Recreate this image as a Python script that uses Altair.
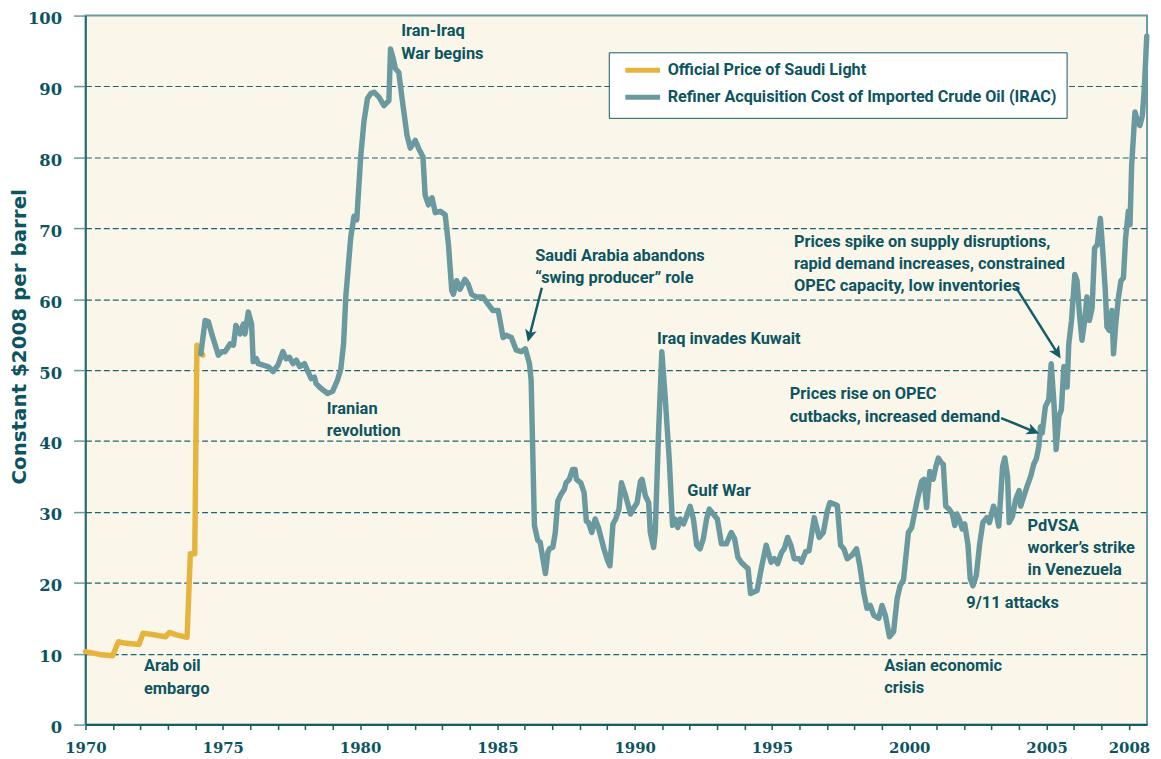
import altair as alt
import pandas as pd

# ---------------- data ----------------
series_names = ["Official Price of Saudi Light",
                "Refiner Acquisition Cost of Imported Crude Oil (IRAC)"]
series_colors = ["#E5B43C", "#6A9AA0"]

saudi_year = [1970.00, 1970.51, 1970.99, 1971.20, 1971.41, 1971.95, 1972.10, 1972.43,
              1972.92, 1973.06, 1973.28, 1973.70, 1973.82, 1973.98, 1974.06, 1974.27]
saudi_value = [10.3, 9.9, 9.7, 11.7, 11.5, 11.3, 12.9, 12.7,
               12.4, 13.0, 12.7, 12.3, 24.1, 24.1, 53.5, 52.1]

irac_year = [
    1974.20, 1974.36, 1974.48, 1974.60, 1974.84, 1974.96, 1975.08, 1975.27, 1975.39, 1975.48,
    1975.63, 1975.75, 1975.81, 1975.93, 1976.05, 1976.11, 1976.23, 1976.29, 1976.47, 1976.65,
    1976.83, 1977.01, 1977.19, 1977.31, 1977.43, 1977.56, 1977.68, 1977.80, 1977.98, 1978.10,
    1978.22, 1978.34, 1978.40, 1978.58, 1978.82, 1979.00, 1979.18, 1979.30, 1979.40, 1979.48,
    1979.66, 1979.78, 1979.88, 1980.02, 1980.14, 1980.27, 1980.39, 1980.51, 1980.69, 1980.87,
    1981.05, 1981.11, 1981.21, 1981.29, 1981.41, 1981.53, 1981.71, 1981.83, 1982.01, 1982.13,
    1982.29, 1982.37, 1982.49, 1982.62, 1982.74, 1982.92, 1983.10, 1983.22, 1983.34, 1983.40,
    1983.52, 1983.64, 1983.82, 1983.94, 1984.06, 1984.24, 1984.48, 1984.66, 1984.84, 1985.03,
    1985.21, 1985.33, 1985.51, 1985.69, 1985.87, 1986.02, 1986.17, 1986.23, 1986.35, 1986.47,
    1986.56, 1986.66, 1986.75, 1986.84, 1986.90, 1987.02, 1987.11, 1987.20, 1987.32, 1987.44,
    1987.50, 1987.62, 1987.74, 1987.83, 1987.88, 1988.04, 1988.16, 1988.24, 1988.32, 1988.44,
    1988.56, 1988.68, 1988.80, 1988.88, 1989.01, 1989.10, 1989.21, 1989.31, 1989.43, 1989.52,
    1989.67, 1989.85, 1989.97, 1990.09, 1990.21, 1990.27, 1990.39, 1990.51, 1990.57, 1990.69,
    1990.75, 1990.87, 1990.99, 1991.11, 1991.26, 1991.38, 1991.47, 1991.57, 1991.66, 1991.78,
    1991.90, 1992.02, 1992.14, 1992.26, 1992.38, 1992.50, 1992.62, 1992.72, 1992.86, 1993.01,
    1993.16, 1993.34, 1993.52, 1993.64, 1993.76, 1993.88, 1994.01, 1994.13, 1994.22, 1994.34,
    1994.46, 1994.61, 1994.79, 1994.97, 1995.09, 1995.21, 1995.35, 1995.45, 1995.57, 1995.69,
    1995.81, 1995.99, 1996.08, 1996.23, 1996.35, 1996.54, 1996.72, 1996.87, 1997.02, 1997.11,
    1997.26, 1997.38, 1997.50, 1997.62, 1997.74, 1997.92, 1998.08, 1998.20, 1998.34, 1998.46,
    1998.58, 1998.71, 1998.89, 1999.01, 1999.13, 1999.28, 1999.43, 1999.56, 1999.67, 1999.79,
    1999.97, 2000.09, 2000.27, 2000.45, 2000.54, 2000.63, 2000.75, 2000.87, 2000.97, 2001.06,
    2001.18, 2001.24, 2001.33, 2001.45, 2001.57, 2001.66, 2001.74, 2001.84, 2001.93, 2002.02,
    2002.14, 2002.22, 2002.32, 2002.44, 2002.56, 2002.68, 2002.83, 2002.92, 2003.07, 2003.16,
    2003.26, 2003.40, 2003.48, 2003.58, 2003.64, 2003.76, 2003.88, 2004.00, 2004.06, 2004.14,
    2004.30, 2004.42, 2004.54, 2004.63, 2004.72, 2004.78, 2004.84, 2004.96, 2005.08, 2005.17,
    2005.27, 2005.35, 2005.45, 2005.54, 2005.63, 2005.75, 2005.81, 2005.91, 2006.03, 2006.11,
    2006.20, 2006.29, 2006.39, 2006.47, 2006.56, 2006.66, 2006.75, 2006.85, 2006.96, 2007.04,
    2007.14, 2007.20, 2007.28, 2007.38, 2007.44, 2007.52, 2007.62, 2007.71, 2007.80, 2007.88,
    2007.98, 2008.04, 2008.10, 2008.22, 2008.32, 2008.40, 2008.49, 2008.56, 2008.65]
irac_value = [
    52.3, 57.0, 56.8, 55.1, 52.1, 52.6, 52.6, 53.7, 53.5, 56.3,
    55.1, 56.5, 55.1, 58.2, 56.5, 51.2, 51.6, 50.9, 50.7, 50.5,
    49.8, 50.7, 52.6, 51.6, 51.8, 50.9, 51.4, 50.5, 50.9, 49.8,
    48.8, 49.0, 48.1, 47.4, 46.7, 47.0, 48.6, 50.2, 53.7, 60.3,
    68.7, 71.7, 71.2, 79.9, 85.0, 88.3, 89.0, 89.2, 88.5, 87.3,
    88.0, 95.3, 93.9, 92.5, 92.0, 88.3, 83.1, 81.3, 82.4, 81.3,
    80.1, 74.7, 73.3, 74.3, 72.2, 72.4, 71.9, 67.7, 61.2, 60.7,
    62.6, 61.4, 62.8, 62.1, 60.7, 60.3, 60.3, 59.3, 58.4, 58.4,
    54.6, 54.9, 54.6, 52.8, 52.6, 53.0, 50.9, 48.6, 28.1, 26.0,
    25.7, 23.4, 21.3, 24.3, 24.8, 25.0, 27.1, 31.5, 32.5, 33.2,
    34.1, 34.6, 36.0, 36.0, 34.6, 34.1, 32.7, 28.7, 28.5, 27.1,
    29.0, 27.8, 26.0, 24.8, 23.2, 22.4, 28.3, 29.0, 30.4, 34.1,
    32.3, 29.7, 30.6, 31.3, 34.3, 34.6, 32.3, 31.3, 27.1, 25.0,
    27.1, 41.1, 52.6, 46.3, 37.4, 28.1, 29.0, 27.8, 29.0, 28.3,
    29.5, 30.8, 29.0, 25.3, 24.8, 26.2, 29.0, 30.4, 29.7, 29.0,
    25.5, 25.5, 27.1, 26.2, 23.6, 22.9, 22.4, 22.0, 18.5, 18.7,
    18.9, 22.0, 25.3, 22.9, 23.4, 22.7, 24.3, 24.8, 26.4, 25.3,
    23.4, 23.4, 22.9, 24.4, 24.5, 29.2, 26.4, 27.1, 30.2, 31.3,
    31.1, 30.9, 25.3, 24.8, 23.4, 23.9, 24.8, 22.4, 18.7, 16.4,
    16.8, 15.4, 15.0, 16.8, 15.4, 12.4, 13.1, 17.8, 19.6, 20.4,
    27.1, 27.8, 31.3, 34.3, 34.6, 30.6, 35.7, 34.6, 36.4, 37.6,
    36.9, 36.7, 30.8, 30.4, 29.7, 28.1, 29.7, 28.8, 27.6, 28.3,
    25.3, 20.6, 19.6, 21.0, 25.3, 28.5, 29.2, 28.5, 30.8, 29.9,
    28.0, 36.4, 37.6, 35.0, 28.5, 29.4, 31.8, 33.0, 30.8, 31.8,
    33.7, 35.0, 36.8, 37.5, 39.3, 42.0, 41.1, 44.9, 45.8, 50.9,
    45.3, 38.8, 43.5, 44.4, 50.5, 47.6, 53.7, 57.0, 63.5, 62.6,
    57.9, 54.2, 57.0, 60.3, 57.0, 58.8, 67.2, 67.7, 71.4, 67.2,
    61.2, 56.1, 55.6, 58.4, 52.3, 56.5, 60.3, 62.6, 63.0, 68.7,
    72.4, 70.5, 78.9, 86.4, 85.0, 84.5, 85.9, 89.7, 97.1]

x_tick_years = list(range(1970, 2009))
x_label_years = [1970, 1975, 1980, 1985, 1990, 1995, 2000, 2005, 2008]
y_ticks = list(range(0, 101, 10))

ann_text = ["Arab oil\nembargo",
            "Iranian\nrevolution",
            "Iran-Iraq\nWar begins",
            "Saudi Arabia abandons\n\u201cswing producer\u201d role",
            "Iraq invades Kuwait",
            "Gulf War",
            "Prices spike on supply disruptions,\nrapid demand increases, constrained\nOPEC capacity, low inventories",
            "Prices rise on OPEC\ncutbacks, increased demand",
            "PdVSA\nworker\u2019s strike\nin Venezuela",
            "9/11 attacks",
            "Asian economic\ncrisis"]
ann_year = [1972.13, 1978.79, 1981.50, 1986.38, 1990.81, 1991.92, 1995.80, 1995.65, 2004.31, 2002.08, 1999.09]
ann_value = [7.5, 43.8, 97.05, 65.4, 53.7, 32.2, 67.4, 45.9, 27.35, 16.4, 7.6]

arrow_start_year = [1986.62, 2003.887, 2003.345]
arrow_start_value = [61.62, 61.67, 43.24]
arrow_end_year = [1986.17, 2005.40, 2004.53]
arrow_end_value = [54.78, 52.35, 41.36]
arrow_tip_year = [1986.11, 2005.514, 2004.733]
arrow_tip_value = [53.96, 51.64, 41.04]
arrow_angle = [194.4, 147.9, 112.2]

# ---------------- styles ----------------
TEXT = "#0C5560"
DARK = "#145C66"
GRID = "#1F6570"
LIGHT = "#6A9AA0"
BG = "#FBF6EA"
NARROW = "Roboto"
SERIF = "DejaVu Serif"
HEAVY = "DejaVu Sans"

lines_df = pd.DataFrame({
    "year": saudi_year + irac_year,
    "value": saudi_value + irac_value,
    "series": [series_names[0]] * len(saudi_year) + [series_names[1]] * len(irac_year),
})
ann_df = pd.DataFrame({"text": ann_text, "year": ann_year, "value": ann_value})
arrow_df = pd.DataFrame({
    "x0": arrow_start_year, "y0": arrow_start_value,
    "x1": arrow_end_year, "y1": arrow_end_value,
    "tx": arrow_tip_year, "ty": arrow_tip_value, "angle": arrow_angle,
})

xs = alt.Scale(domain=[1970, 2008.66], nice=False, zero=False)
ys = alt.Scale(domain=[0, 100], nice=False, zero=False)

label_set = ",".join(str(v) for v in x_label_years)
x_axis = alt.Axis(
    values=x_tick_years, format="d", title=None, grid=False,
    labelExpr=f"indexof([{label_set}], datum.value) >= 0 ? datum.label : ''",
    labelFont=SERIF, labelFontSize=15, labelFontWeight="bold", labelColor=TEXT,
    labelPadding=11, labelFlush=False, labelOverlap=False,
    tickSize=5, tickColor=DARK, tickWidth=1.5,
    domainColor=DARK, domainWidth=2,
)
y_axis = alt.Axis(
    values=y_ticks, format="d",
    title="Constant $2008 per barrel",
    titleFont=HEAVY, titleFontSize=20, titleFontWeight="bold", titleColor=TEXT,
    titleX=-60.5, titleY=323, titleAlign="center", titleBaseline="alphabetic",
    labelFont=SERIF, labelFontSize=16.5, labelFontWeight="bold", labelColor=TEXT,
    labelPadding=12, labelOffset=3,
    tickSize=12, tickColor=LIGHT, tickWidth=1.5,
    domainColor=DARK, domainWidth=1.5,
    grid=True, gridDash=[6, 3], gridWidth=1.1,
    gridColor={"condition": {"test": "datum.value >= 100", "value": "transparent"}, "value": GRID},
)

X = lambda f: alt.X(f, scale=xs, axis=x_axis)
Y = lambda f: alt.Y(f, scale=ys, axis=y_axis)

lines = alt.Chart(lines_df).mark_line(strokeWidth=5.5, strokeJoin="round", strokeCap="round").encode(
    x=X("year:Q"),
    y=Y("value:Q"),
    color=alt.Color(
        "series:N",
        scale=alt.Scale(domain=series_names, range=series_colors),
        legend=alt.Legend(
            title=None, orient="none", legendX=527, legendY=37, direction="vertical",
            fillColor="white", strokeColor=DARK, padding=10,
            symbolType="M-3.5,0H3.5", symbolSize=100, symbolStrokeWidth=5,
            symbolOffset=16,
            labelFont=NARROW, labelFontSize=16.3, labelFontWeight="bold", labelColor=TEXT,
            labelOffset=17, rowPadding=6, labelLimit=0,
        ),
    ),
)

texts = alt.Chart(ann_df).mark_text(
    align="left", baseline="alphabetic", lineBreak="\n", lineHeight=22.5,
    font=NARROW, fontSize=16.5, fontWeight="bold", color=TEXT,
).encode(
    x=X("year:Q"),
    y=Y("value:Q"),
    text="text:N",
)

shafts = alt.Chart(arrow_df).mark_rule(strokeWidth=2.5, color=DARK).encode(
    x=X("x0:Q"),
    y=Y("y0:Q"),
    x2="x1:Q", y2="y1:Q",
)
heads = alt.Chart(arrow_df).mark_point(
    shape="M0,0L-0.85,1.8L0,1.35L0.85,1.8Z", size=196, filled=True,
    color=DARK, opacity=1, strokeWidth=0,
).encode(
    x=X("tx:Q"),
    y=Y("ty:Q"),
    angle=alt.Angle("angle:Q", scale=None),
)

chart = alt.layer(lines, shafts, heads, texts).properties(
    width=1069, height=714,
    autosize=alt.AutoSizeParams(type="none"),
    padding={"left": 78, "top": 5, "right": 6, "bottom": 32},
    background="white",
).configure_view(fill=BG, stroke=LIGHT, strokeWidth=2)

chart.save("out.html", embed_options={"renderer": "svg", "actions": False})
